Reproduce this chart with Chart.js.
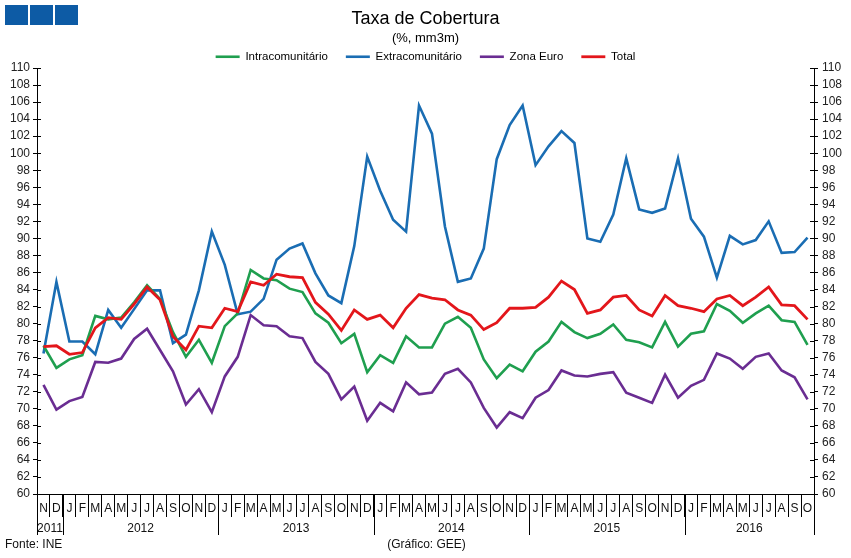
<!DOCTYPE html>
<html><head><meta charset="utf-8">
<script src="https://cdn.jsdelivr.net/npm/chart.js@4"></script>
<style>
html,body{margin:0;padding:0;background:#fff;}
#wrap{position:relative;width:851px;height:558px;overflow:hidden;}
.sq{position:absolute;top:5px;width:23px;height:20px;background:#0d5ba5;}
.foot{position:absolute;top:537px;font:12px "Liberation Sans",Arial,sans-serif;color:#111;white-space:nowrap;}
</style></head>
<body>
<div id="wrap">
<canvas id="c"></canvas>
<div class="sq" style="left:5px"></div>
<div class="sq" style="left:30px"></div>
<div class="sq" style="left:55px"></div>
<div class="foot" style="left:5px">Fonte: INE</div>
<div class="foot" style="left:0;width:853px;text-align:center">(Gráfico: GEE)</div>
</div>
<script>
const monthLabels = ['N','D',
 'J','F','M','A','M','J','J','A','S','O','N','D',
 'J','F','M','A','M','J','J','A','S','O','N','D',
 'J','F','M','A','M','J','J','A','S','O','N','D',
 'J','F','M','A','M','J','J','A','S','O','N','D',
 'J','F','M','A','M','J','J','A','S','O'];
const yearLabels = ['2011','2012','2013','2014','2015','2016'];
const yearMonthCounts = [2,12,12,12,12,10];

const intra = [77.4,74.8,75.8,76.3,80.9,80.5,80.7,82.5,84.5,82.9,
 79.0,76.1,78.1,75.4,79.7,81.2,86.3,85.3,85.1,84.1,
 83.7,81.2,80.1,77.7,78.8,74.3,76.3,75.4,78.5,77.2,
 77.2,80.0,80.8,79.5,75.8,73.6,75.2,74.4,76.7,77.9,
 80.2,79.0,78.3,78.8,79.9,78.1,77.8,77.2,80.2,77.3,
 78.8,79.1,82.3,81.5,80.1,81.2,82.1,80.4,80.2,77.5];
const extra = [76.5,84.9,77.9,77.9,76.4,81.6,79.5,81.7,83.9,83.9,
 77.7,78.7,83.9,90.8,86.9,81.1,81.4,82.9,87.5,88.8,
 89.4,85.9,83.3,82.4,89.1,99.6,95.6,92.2,90.8,105.6,
 102.3,91.4,84.9,85.3,88.8,99.3,103.3,105.6,98.6,100.8,
 102.6,101.2,90.0,89.6,92.8,99.4,93.4,93.0,93.5,99.4,
 92.3,90.2,85.4,90.3,89.3,89.8,92.0,88.3,88.4,90.1];
const zonaEuro = [72.8,69.9,70.9,71.4,75.5,75.4,75.9,78.2,79.4,76.9,
 74.4,70.5,72.3,69.6,73.8,76.1,81.0,79.8,79.7,78.5,
 78.3,75.5,74.1,71.1,72.6,68.6,70.7,69.7,73.1,71.7,
 71.9,74.1,74.7,73.1,70.1,67.8,69.6,68.9,71.3,72.2,
 74.5,73.9,73.8,74.1,74.3,71.9,71.3,70.7,74.0,71.3,
 72.7,73.4,76.5,75.9,74.7,76.1,76.5,74.5,73.7,71.1];
const total = [77.3,77.4,76.4,76.6,79.5,80.7,80.5,82.3,84.3,82.8,
 78.5,76.9,79.7,79.5,81.8,81.4,84.9,84.5,85.8,85.5,
 85.4,82.5,81.1,79.2,81.6,80.5,81.0,79.5,81.8,83.4,
 83.0,82.8,81.6,81.0,79.3,80.1,81.8,81.8,81.9,83.1,
 85.0,84.0,81.2,81.6,83.1,83.3,81.6,80.9,83.3,82.1,
 81.8,81.4,82.9,83.3,82.1,83.1,84.3,82.2,82.1,80.5];

const FONT = '"Liberation Sans", Arial, sans-serif';

const legendPatch = {
  id: 'legendPatch',
  beforeLayout(chart) {
    const lg = chart.legend;
    if (lg && !lg._patched) {
      const orig = lg.fit;
      lg.fit = function() { orig.call(this); this.height -= 4.5; };
      lg._patched = true;
    }
  }
};

const axisDecor = {
  id: 'axisDecor',
  afterDraw(chart) {
    const ctx = chart.ctx;
    const xs = chart.scales.x, yl = chart.scales.y, yr = chart.scales.y2;
    ctx.save();
    ctx.strokeStyle = '#000';
    ctx.lineWidth = 1;
    ctx.beginPath();
    yl.ticks.forEach(t => {
      const p = Math.round(yl.getPixelForValue(t.value)) + 0.5;
      ctx.moveTo(yl.right, p); ctx.lineTo(yl.right + 4, p);
    });
    yr.ticks.forEach(t => {
      const p = Math.round(yr.getPixelForValue(t.value)) + 0.5;
      ctx.moveTo(yr.left - 4, p); ctx.lineTo(yr.left, p);
    });
    ctx.stroke();
    const n = monthLabels.length;
    const bound = c => c === 0 ? xs.left : (c === n ? xs.right :
      (xs.getPixelForValue(c - 1) + xs.getPixelForValue(c)) / 2);
    let c = 0;
    ctx.font = '12px ' + FONT;
    ctx.fillStyle = '#111';
    ctx.textAlign = 'center';
    ctx.textBaseline = 'middle';
    ctx.beginPath();
    const top = xs.top, bot = xs.top + 41;
    const b0 = Math.round(bound(0)) + 0.5;
    ctx.moveTo(b0, top); ctx.lineTo(b0, bot);
    yearMonthCounts.forEach((cnt, i) => {
      const a = bound(c), b = bound(c + cnt);
      const bx = Math.round(b) + 0.5;
      ctx.moveTo(bx, top); ctx.lineTo(bx, bot);
      ctx.fillText(yearLabels[i], (a + b) / 2, xs.top + 35);
      c += cnt;
    });
    ctx.stroke();
    ctx.restore();
  }
};

new Chart(document.getElementById('c'), {
  type: 'line',
  data: {
    labels: monthLabels,
    datasets: [
      {label: 'Intracomunitário', data: intra, borderColor: '#1f9f4f', backgroundColor: '#1f9f4f', borderWidth: 2.6, order: 1},
      {label: 'Extracomunitário', data: extra, borderColor: '#1a6db3', backgroundColor: '#1a6db3', borderWidth: 2.6, order: 2},
      {label: 'Zona Euro', data: zonaEuro, borderColor: '#6a2d92', backgroundColor: '#6a2d92', borderWidth: 2.6, order: 3},
      {label: 'Total', data: total, borderColor: '#e3161b', backgroundColor: '#e3161b', borderWidth: 2.8, order: 0}
    ]
  },
  options: {
    responsive: true,
    maintainAspectRatio: false,
    animation: false,
    devicePixelRatio: 1,
    layout: {padding: {left: 0, right: 0, top: 0, bottom: 41}},
    elements: {point: {radius: 0, hoverRadius: 0}, line: {tension: 0}},
    plugins: {
      tooltip: {enabled: false},
      title: {display: true, text: 'Taxa de Cobertura', color: '#000',
        font: {family: FONT, size: 18, weight: 'normal'}, padding: {top: 8, bottom: 0}},
      subtitle: {display: true, text: '(%, mm3m)', color: '#000',
        font: {family: FONT, size: 13, weight: 'normal'}, padding: {top: 1, bottom: -13.2}},
      legend: {display: true, position: 'top',
        labels: {usePointStyle: true, pointStyle: 'line', pointStyleWidth: 24, padding: 18,
          sort: (a, b) => a.datasetIndex - b.datasetIndex,
          color: '#000', font: {family: FONT, size: 11.5}}}
    },
    scales: {
      x: {
        type: 'category', offset: true,
        grid: {display: true, offset: true, drawOnChartArea: false, drawTicks: true, tickLength: 23, color: '#000', lineWidth: 1},
        border: {display: true, color: '#000', width: 1},
        ticks: {autoSkip: false, maxRotation: 0, minRotation: 0, padding: -16, color: '#111', font: {family: FONT, size: 12}},
        afterFit(s) { s.height = 23; }
      },
      y: {
        position: 'left', min: 60, max: 110,
        grid: {drawOnChartArea: false, drawTicks: true, tickLength: 4, color: '#000'},
        border: {display: true, color: '#000', width: 1},
        ticks: {stepSize: 2, autoSkip: false, padding: 3, color: '#222', font: {family: FONT, size: 12}},
        afterFit(s) { s.width = 37; }
      },
      y2: {
        position: 'right', min: 60, max: 110,
        grid: {drawOnChartArea: false, drawTicks: true, tickLength: 4, color: '#000'},
        border: {display: true, color: '#000', width: 1},
        ticks: {stepSize: 2, autoSkip: false, padding: 4, color: '#222', font: {family: FONT, size: 12}},
        afterFit(s) { s.width = 37; }
      }
    }
  },
  plugins: [legendPatch, axisDecor]
});
</script>
</body></html>
